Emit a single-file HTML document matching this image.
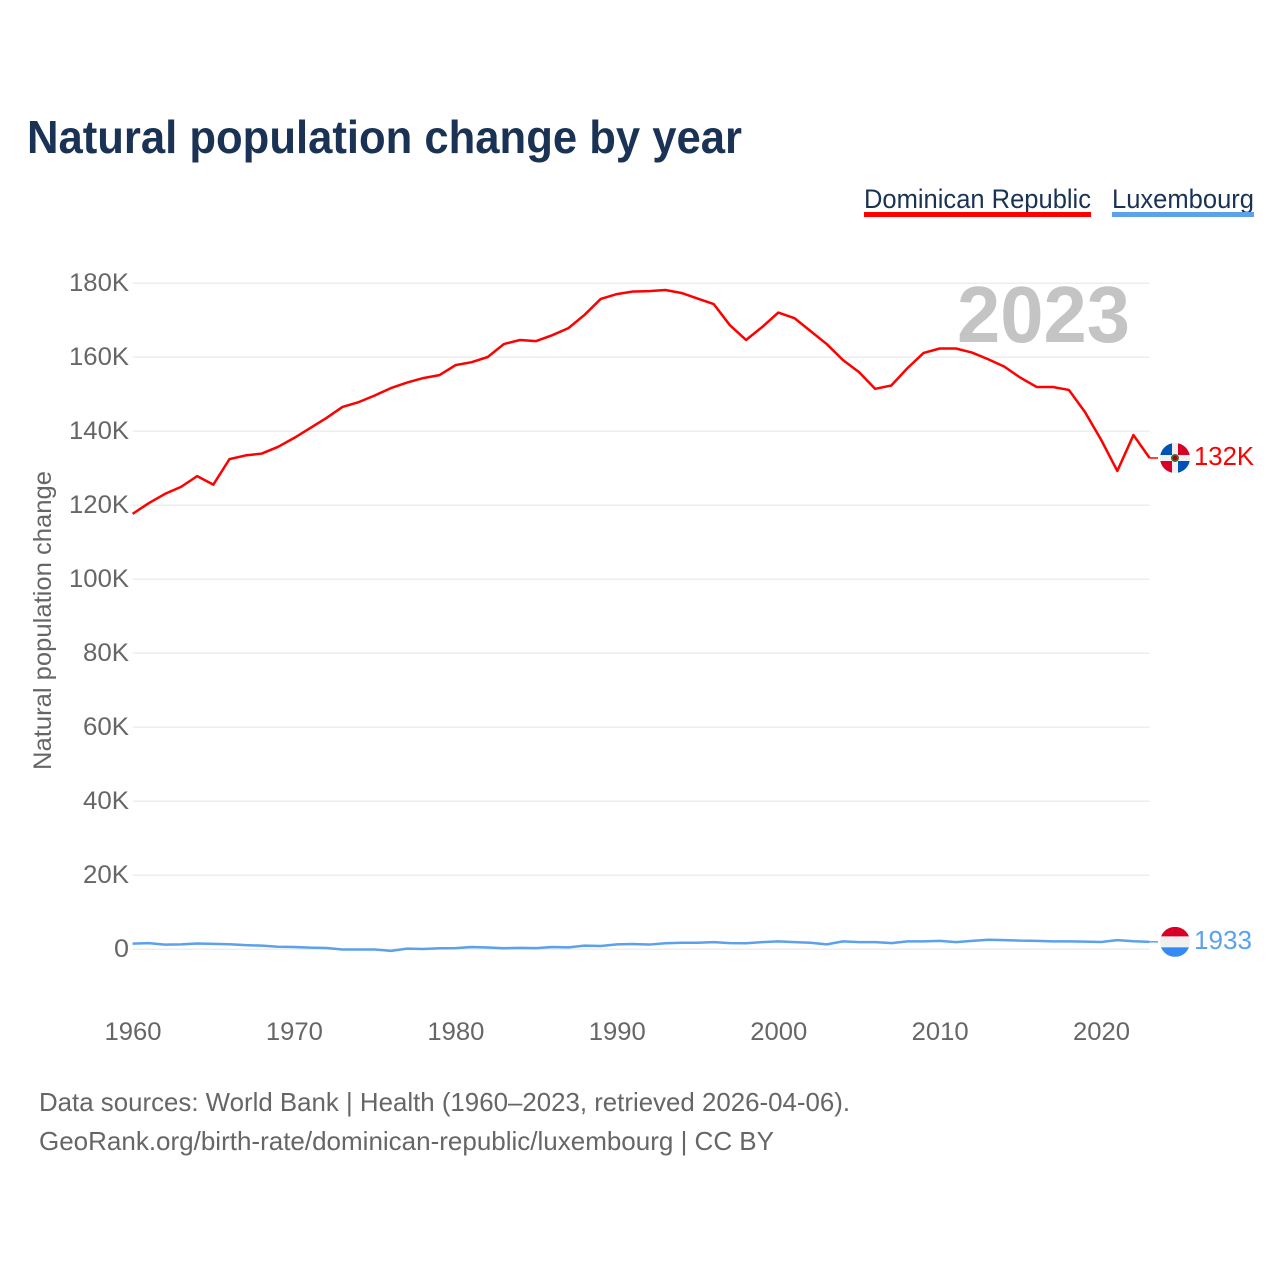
<!DOCTYPE html>
<html lang="en">
<head>
<meta charset="utf-8">
<title>Natural population change by year</title>
<style>
html,body{margin:0;padding:0;background:#fff;width:1280px;height:1280px;overflow:hidden}
svg{display:block;font-family:"Liberation Sans",Arial,sans-serif}
</style>
</head>
<body>
<svg id="chart" xmlns="http://www.w3.org/2000/svg" width="1280" height="1280" viewBox="0 0 1280 1280">
  <defs>
    <clipPath id="flag-clip"><circle cx="0" cy="0" r="15"></circle></clipPath>
  </defs>
  <text x="27" y="153" font-size="46" font-weight="700" fill="#1a3354" textLength="715" lengthAdjust="spacingAndGlyphs">Natural population change by year</text>

  <g>
    <g>
      <text x="864" y="208" font-size="27" fill="#1a3354" textLength="227" lengthAdjust="spacingAndGlyphs">Dominican Republic</text>
      <rect x="864" y="212" width="227" height="5" fill="#ff0000"></rect>
    </g>
    <g>
      <text x="1112" y="208" font-size="27" fill="#1a3354" textLength="142" lengthAdjust="spacingAndGlyphs">Luxembourg</text>
      <rect x="1112" y="212" width="142" height="5" fill="#5ba1ec"></rect>
    </g>
  </g>

  <g id="grid"></g>
  <g id="y-ticks"></g>
  <g id="x-ticks"></g>

  <text x="957" y="342" font-size="80" font-weight="700" fill="#c4c4c4" textLength="173" lengthAdjust="spacingAndGlyphs">2023</text>

  <text transform="translate(51,770) rotate(-90)" x="0" y="0" font-size="25" fill="#666666" textLength="299" lengthAdjust="spacingAndGlyphs">Natural population change</text>

  <g id="series"></g>

  <g id="flag-dr">
    <g clip-path="url(#flag-clip)">
      <rect x="-15" y="-15" width="30" height="30" fill="#f0f0f0"></rect>
      <rect x="-15" y="-15" width="12" height="12" fill="#0052b4"></rect>
      <rect x="3" y="-15" width="12" height="12" fill="#d80027"></rect>
      <rect x="-15" y="3" width="12" height="12" fill="#d80027"></rect>
      <rect x="3" y="3" width="12" height="12" fill="#0052b4"></rect>
      <circle cx="0" cy="0" r="4" fill="#496e2d"></circle>
      <circle cx="0" cy="0" r="2.2" fill="#a2001d"></circle>
    </g>
  </g>
  <g id="flag-lu">
    <g clip-path="url(#flag-clip)">
      <rect x="-15" y="-15" width="30" height="30" fill="#f0f0f0"></rect>
      <rect x="-15" y="-15" width="30" height="9.5" fill="#d80027"></rect>
      <rect x="-15" y="5.5" width="30" height="9.5" fill="#338af3"></rect>
    </g>
  </g>

  <text id="value-dr" x="1194" y="465" font-size="26" fill="#ff0000" textLength="60" lengthAdjust="spacingAndGlyphs"></text>
  <text id="value-lu" x="1194" y="949" font-size="26" fill="#5ba1ec" textLength="58" lengthAdjust="spacingAndGlyphs"></text>

  <g>
    <text x="39" y="1111" font-size="26" fill="#666666" textLength="811" lengthAdjust="spacingAndGlyphs">Data sources: World Bank | Health (1960–2023, retrieved 2026-04-06).</text>
    <text x="39" y="1150" font-size="26" fill="#666666" textLength="735" lengthAdjust="spacingAndGlyphs">GeoRank.org/birth-rate/dominican-republic/luxembourg | CC BY</text>
  </g>
</svg>
<script>
const firstYear = 1960;
const lastYear = 2023;
const xTickYears = [1960, 1970, 1980, 1990, 2000, 2010, 2020];
const yTickValues = [0, 20, 40, 60, 80, 100, 120, 140, 160, 180];
const yTickLabels = ["0", "20K", "40K", "60K", "80K", "100K", "120K", "140K", "160K", "180K"];
const dominicanRepublic = [
  117.6, 120.5, 123.0, 124.9, 127.8, 125.5, 132.4, 133.4, 133.9, 135.7,
  138.1, 140.8, 143.5, 146.5, 147.8, 149.6, 151.6, 153.1, 154.3, 155.1,
  157.8, 158.6, 160.0, 163.5, 164.6, 164.3, 165.9, 167.8, 171.4, 175.7,
  177.0, 177.7, 177.8, 178.1, 177.3, 175.8, 174.3, 168.6, 164.6, 168.1,
  172.0, 170.5, 167.0, 163.5, 159.2, 155.9, 151.4, 152.3, 157.0, 161.1,
  162.3, 162.3, 161.2, 159.4, 157.4, 154.4, 151.9, 151.9, 151.1, 145.1,
  137.6, 129.2, 138.9, 132.7
];
const luxembourg = [
  1.44, 1.6, 1.17, 1.26, 1.5, 1.4, 1.3, 1.05, 0.9, 0.6,
  0.55, 0.36, 0.27, -0.15, -0.15, -0.15, -0.5, 0.1, 0.0, 0.2,
  0.25, 0.55, 0.4, 0.2, 0.3, 0.25, 0.55, 0.45, 0.9, 0.8,
  1.25, 1.35, 1.2, 1.55, 1.7, 1.7, 1.85, 1.6, 1.55, 1.85,
  2.05, 1.85, 1.7, 1.25, 2.05, 1.85, 1.85, 1.6, 2.05, 2.05,
  2.2, 1.85, 2.2, 2.5, 2.4, 2.25, 2.2, 2.05, 2.05, 2.0,
  1.9, 2.4, 2.1, 1.933
];
const endValueLabels = ["132K", "1933"];

const NS = "http://www.w3.org/2000/svg";
function xScale(year) {
  return 132.6 + (year - firstYear) * (1149.6 - 132.6) / (lastYear - firstYear);
}
function yScale(value) {
  return 949 - value * 3.7;
}
function makeSvg(tag, attrs, parent) {
  const node = document.createElementNS(NS, tag);
  for (const key in attrs) node.setAttribute(key, attrs[key]);
  parent.appendChild(node);
  return node;
}
function linePath(values) {
  return values.map(function (v, i) {
    return (i ? "L" : "M") + xScale(firstYear + i).toFixed(2) + " " + yScale(v).toFixed(2);
  }).join(" ");
}

const gridGroup = document.getElementById("grid");
const yGroup = document.getElementById("y-ticks");
yTickValues.forEach(function (value, i) {
  const gridLine = makeSvg("line", {x1: xScale(firstYear), x2: xScale(lastYear), y1: yScale(value) + 0.3, y2: yScale(value) + 0.3, stroke: "#eeeeee", "stroke-width": 1.5}, gridGroup);
  
  
  const label = yTickLabels[i];
  const tickLabel = makeSvg("text", {x: 129, y: yScale(value) + 8, "text-anchor": "end", "font-size": 25, fill: "#666666", textLength: label.length === 1 ? 15 : label.length === 3 ? 46 : 60, lengthAdjust: "spacingAndGlyphs"}, yGroup);
  tickLabel.textContent = label;
  
  
});

const xGroup = document.getElementById("x-ticks");
xTickYears.forEach(function (year) {
  const tickLabel = makeSvg("text", {x: xScale(year) + 0.4, y: 1040, "text-anchor": "middle", "font-size": 25, fill: "#666666", textLength: 57, lengthAdjust: "spacingAndGlyphs"}, xGroup);
  tickLabel.textContent = String(year);
  
  
});

const seriesGroup = document.getElementById("series");
const drLine = makeSvg("path", {d: linePath(dominicanRepublic), fill: "none", stroke: "#ff0000", "stroke-width": 2.5, "stroke-linejoin": "round"}, seriesGroup);


const luLine = makeSvg("path", {d: linePath(luxembourg), fill: "none", stroke: "#5ba1ec", "stroke-width": 2.5, "stroke-linejoin": "round"}, seriesGroup);



const drEnd = yScale(dominicanRepublic[dominicanRepublic.length - 1]);
const luEnd = yScale(luxembourg[luxembourg.length - 1]);
const drConnector = makeSvg("line", {x1: xScale(lastYear), x2: 1158, y1: drEnd, y2: drEnd, stroke: "#ff0000", "stroke-width": 1.5}, seriesGroup);


const luConnector = makeSvg("line", {x1: xScale(lastYear), x2: 1158, y1: luEnd, y2: luEnd, stroke: "#5ba1ec", "stroke-width": 1.5}, seriesGroup);



document.getElementById("flag-dr").setAttribute("transform", "translate(1175," + drEnd + ")");
document.getElementById("flag-lu").setAttribute("transform", "translate(1175," + luEnd + ")");
document.getElementById("value-dr").textContent = endValueLabels[0];
document.getElementById("value-dr").setAttribute("y", drEnd + 7);
document.getElementById("value-lu").textContent = endValueLabels[1];
document.getElementById("value-lu").setAttribute("y", luEnd + 7);
</script>
</body>
</html>
